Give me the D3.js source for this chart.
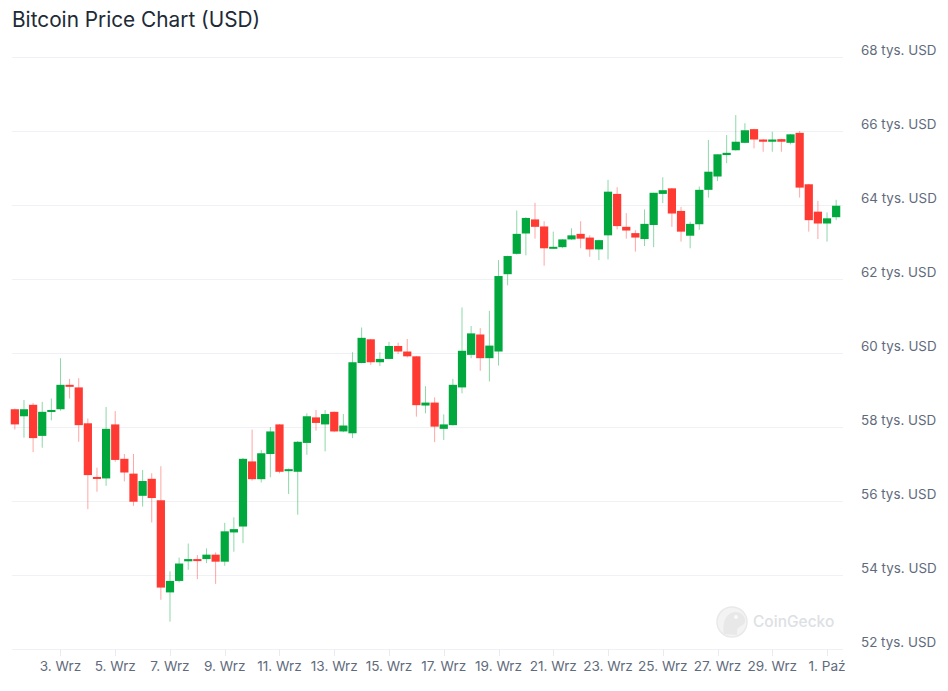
<!DOCTYPE html>
<html>
<head>
<meta charset="utf-8">
<script src="https://cdn.jsdelivr.net/npm/d3@7/dist/d3.min.js"></script>
<style>
  html, body { margin: 0; padding: 0; background: #ffffff; }
  svg { display: block; font-family: Inter, "Noto Sans", sans-serif; }
</style>
</head>
<body>
<svg id="chart" width="948" height="691"></svg>
<script>
// ---- Data (USD) : 8-hour candles starting 2024-09-01 08:00 UTC ----
const startTime = "2024-09-01T08:00:00Z";
const stepHours = 8;
const openValues = [
  58480, 58290, 58600, 57760, 58410, 58480, 59140, 59070, 58100, 56650,
  56610, 58070, 57140, 56740, 56140, 56600, 56020, 53530, 53840, 54370,
  54430, 54430, 54550, 54360, 55150, 55310, 57070, 56590, 57270, 58070,
  56820, 56790, 57570, 58260, 58070, 58410, 57880, 57830, 59730, 60370,
  59750, 59840, 60190, 60040, 59910, 58580, 58660, 57950, 58050, 59070,
  59950, 60500, 59860, 60040, 62130, 62680, 63230, 63610, 63420, 62830,
  62860, 63070, 63220, 63120, 62800, 63180, 64300, 63410, 63240, 63080,
  63460, 64300, 64450, 63840, 63170, 63480, 64410, 64770, 65350, 65480,
  65680, 66050, 65770, 65710, 65780, 65680, 65950, 64560, 63820, 63500,
  63670
];
const highValues = [
  58500, 58730, 58650, 58680, 58770, 59860, 59300, 59320, 58230, 56900,
  58540, 58430, 57270, 57270, 56840, 56750, 56940, 54100, 54470, 54850,
  54540, 54720, 54610, 55410, 55560, 57160, 57930, 57380, 58000, 58080,
  56880, 57620, 58370, 58460, 58460, 58420, 58350, 60020, 60690, 60380,
  60020, 60300, 60280, 60380, 59920, 59100, 58800, 58340, 59300, 61230,
  60730, 60670, 61140, 62510, 62630, 63850, 63670, 64060, 63560, 63280,
  63080, 63370, 63560, 63180, 63060, 64680, 64480, 63780, 63320, 63880,
  64330, 64750, 64460, 63950, 63550, 64500, 65760, 65370, 65890, 66430,
  66210, 66060, 65780, 65980, 65790, 65920, 66000, 64570, 64110, 63800,
  64140
];
const lowValues = [
  57930, 57710, 57320, 57440, 58180, 58440, 58770, 57600, 55780, 56250,
  56410, 57060, 56530, 55870, 55850, 55420, 53330, 52740, 53800, 54140,
  53890, 54320, 53760, 54250, 54630, 54860, 56550, 56500, 56640, 56750,
  56190, 55630, 57250, 57900, 57340, 57860, 57860, 57700, 59720, 59680,
  59650, 59830, 59970, 59880, 58280, 58370, 57590, 57650, 58040, 58910,
  59860, 59520, 59230, 59660, 61830, 62660, 62640, 63090, 62360, 62820,
  62830, 63060, 62830, 62600, 62510, 62530, 63340, 63090, 62740, 62890,
  62860, 64050, 63410, 63010, 62830, 63330, 64200, 64650, 65130, 65470,
  65670, 65530, 65440, 65440, 65440, 65640, 64200, 63280, 63080, 63010,
  63590
];
const closeValues = [
  58070, 58480, 57700, 58410, 58460, 59140, 59090, 58050, 56700, 56600,
  57950, 57110, 56770, 55980, 56540, 56080, 53660, 53840, 54310, 54430,
  54390, 54550, 54360, 55180, 55240, 57140, 56590, 57290, 57880, 56790,
  56860, 57600, 58290, 58110, 58350, 57880, 58040, 59750, 60410, 59750,
  59840, 60190, 60040, 59910, 58590, 58660, 58010, 58070, 59140, 60060,
  60530, 59860, 60200, 62080, 62620, 63220, 63650, 63410, 62830, 62870,
  63070, 63180, 63090, 62800, 63050, 64360, 63430, 63310, 63120, 63490,
  64330, 64400, 63770, 63280, 63490, 64410, 64900, 65370, 65410, 65710,
  66020, 65770, 65710, 65770, 65710, 65910, 64470, 63590, 63500, 63640,
  63980
];
const yTickValues = [52000, 54000, 56000, 58000, 60000, 62000, 64000, 66000, 68000];
const xTickDates = [
  "2024-09-03", "2024-09-05", "2024-09-07", "2024-09-09", "2024-09-11",
  "2024-09-13", "2024-09-15", "2024-09-17", "2024-09-19", "2024-09-21",
  "2024-09-23", "2024-09-25", "2024-09-27", "2024-09-29", "2024-10-01"
];
const monthNames = ["Sty", "Lut", "Mar", "Kwi", "Maj", "Cze", "Lip", "Sie", "Wrz", "Paź", "Lis", "Gru"];
const titleText = "Bitcoin Price Chart (USD)";
const watermarkText = "CoinGecko";

// ---- Build table ----
const t0 = new Date(startTime).getTime();
const candles = openValues.map((o, i) => ({
  date: new Date(t0 + i * stepHours * 3600 * 1000),
  open: o, high: highValues[i], low: lowValues[i], close: closeValues[i]
}));

// ---- Layout ----
const plotLeft = 12, plotRight = 843, plotTop = 57, plotBottom = 649;

const svg = d3.select("#chart");

const x = d3.scaleUtc()
  .domain([new Date("2024-09-01T05:30:00Z"), new Date("2024-10-01T14:00:00Z")])
  .range([plotLeft, plotRight]);
const y = d3.scaleLinear()
  .domain([52000, 68000])
  .range([plotBottom, plotTop]);

// Title
svg.append("text")
  .attr("x", 12).attr("y", 27)
  .attr("font-size", 20.8)
  .attr("fill", "#202a36")
  .text(titleText);

// Grid lines
svg.append("g").selectAll("line")
  .data(yTickValues)
  .join("line")
  .attr("x1", plotLeft).attr("x2", plotRight)
  .attr("y1", d => Math.round(y(d)) + 0.5)
  .attr("y2", d => Math.round(y(d)) + 0.5)
  .attr("stroke", "#eff1f4")
  .attr("stroke-width", 1);

// Y labels (right)
svg.append("g").selectAll("text")
  .data(yTickValues)
  .join("text")
  .attr("x", 861)
  .attr("y", d => y(d) - 2)
  .attr("font-size", 13.4)
  .attr("fill", "#5f6b7c")
  .text(d => `${d / 1000} tys. USD`);

// X axis ticks
const xTicks = xTickDates.map(s => new Date(s + "T00:00:00Z"));
const fmt = d => `${d.getUTCDate()}. ${monthNames[d.getUTCMonth()]}`;
svg.append("g").selectAll("line")
  .data(xTicks)
  .join("line")
  .attr("x1", d => Math.round(x(d)) + 0.5)
  .attr("x2", d => Math.round(x(d)) + 0.5)
  .attr("y1", plotBottom)
  .attr("y2", plotBottom + 7)
  .attr("stroke", "#e8ebef");
svg.append("g").selectAll("text")
  .data(xTicks)
  .join("text")
  .attr("x", d => x(d))
  .attr("y", 671)
  .attr("text-anchor", "middle")
  .attr("font-size", 13.6)
  .attr("fill", "#5f6b7c")
  .text(fmt);

// Watermark
const wm = svg.append("g").attr("opacity", 0.85);
wm.append("circle").attr("cx", 732).attr("cy", 622).attr("r", 15)
  .attr("fill", "#f2f2f2").attr("stroke", "#e6e6e6").attr("stroke-width", 1.5);
wm.append("path")
  .attr("d", "M724,634 C722,624 725,613 735,612 C742,612 746,617 745,622 C744,626 738,626 737,630 L737,635 Z")
  .attr("fill", "#e4e4e4");
wm.append("circle").attr("cx", 736).attr("cy", 617).attr("r", 2).attr("fill", "#f8f8f8");
wm.append("text")
  .attr("x", 753).attr("y", 627)
  .attr("font-size", 15.5)
  .attr("font-weight", 500)
  .attr("fill", "#d8dbdf")
  .text(watermarkText);

// Candles
const step = x(new Date(t0 + stepHours * 3600 * 1000)) - x(new Date(t0));
const bw = step * 0.9;
const up = "#00a83e", down = "#ff3a33";
const g = svg.append("g");
g.selectAll("line.wick")
  .data(candles)
  .join("line")
  .attr("class", "wick")
  .attr("x1", d => x(d.date)).attr("x2", d => x(d.date))
  .attr("y1", d => y(d.high)).attr("y2", d => y(d.low))
  .attr("stroke", d => d.close >= d.open ? up : down)
  .attr("stroke-opacity", 0.45)
  .attr("stroke-width", 1);
g.selectAll("rect.body")
  .data(candles)
  .join("rect")
  .attr("class", "body")
  .attr("x", d => x(d.date) - bw / 2)
  .attr("width", bw)
  .attr("y", d => y(Math.max(d.open, d.close)))
  .attr("height", d => Math.max(2, Math.abs(y(d.open) - y(d.close))))
  .attr("fill", d => d.close >= d.open ? up : down);
</script>
</body>
</html>
